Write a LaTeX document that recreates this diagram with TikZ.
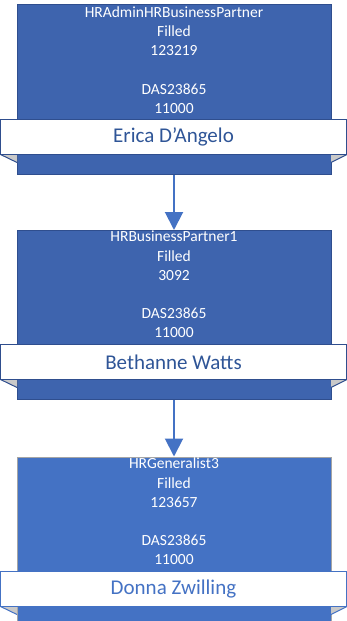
\documentclass[tikz,border=0pt]{standalone}
\usepackage{fontspec}
\setmainfont{Carlito}[Ligatures=ResetAll]
\usetikzlibrary{arrows.meta,positioning}
\definecolor{cardblue}{HTML}{3E64AE}
\definecolor{cardnavy}{HTML}{2F4E8E}
\definecolor{nametext}{HTML}{2F5597}
\definecolor{curblue}{HTML}{4472C4}
\definecolor{curgray}{HTML}{A5A5A5}
\definecolor{foldgray}{HTML}{C9C9C9}
\tikzset{
  card/.style={draw=cardnavy,fill=cardblue,line width=1pt,minimum width=314pt,minimum height=170pt,inner sep=0pt},
  curcard/.style={card,draw=curgray,fill=curblue},
  cardtext/.style={font=\fontsize{15.5}{19.2}\selectfont,text=white,align=center,inner sep=0pt,anchor=north},
  namebar/.style={draw=cardnavy,fill=white,line width=1pt,minimum width=346pt,minimum height=35pt,inner sep=0pt,font=\fontsize{21}{25}\selectfont,text=nametext},
  curnamebar/.style={namebar,draw=curblue,text=curblue},
  fold/.style={fill=foldgray},
  foldedge/.style={draw=cardnavy,line width=1pt},
  link/.style={-{Triangle[length=18pt,width=18pt]},draw=curblue,line width=2pt}
}
\begin{document}
\begin{tikzpicture}[x=1pt,y=-1pt]
\useasboundingbox (0,0) rectangle (347,621);
% position cards
\node[card] (card1) at (174,89) {};
\node[card,minimum height=169pt] (card2) at (174,315) {};
\node[curcard] (card3) at (174,542) {};
\node[cardtext] (info1) at (174,6.5) {HRAdminHRBusinessPartner\\Filled\\123219\\[19.2pt]DAS23865\\11000};
\node[cardtext] (info2) at (174,231) {HRBusinessPartner1\\Filled\\3092\\[19.2pt]DAS23865\\11000};
\node[cardtext] (info3) at (174,458) {HRGeneralist3\\Filled\\123657\\[19.2pt]DAS23865\\11000};
% name bars with folds
\foreach \y/\c in {137/cardnavy,362/cardnavy,589/curblue}{
  \fill[fold] (0.5,\y+17.5) -- (17,\y+17.5) -- (17,\y+25.5) -- cycle;
  \fill[fold] (347,\y+17.5) -- (331,\y+17.5) -- (331,\y+25.5) -- cycle;
  \draw[foldedge,draw=\c] (0.5,\y+17.5) -- (17,\y+25.5);
  \draw[foldedge,draw=\c] (347,\y+17.5) -- (331,\y+25.5);
}
\node[namebar] (name1) at (173.5,137) {Erica D'Angelo};
\node[namebar] (name2) at (173.5,362) {Bethanne Watts};
\node[curnamebar] (name3) at (173.5,589) {Donna Zwilling};
\draw[link] (card1.south) -- (card2.north);
\draw[link] (card2.south) -- (card3.north);
\end{tikzpicture}
\end{document}
